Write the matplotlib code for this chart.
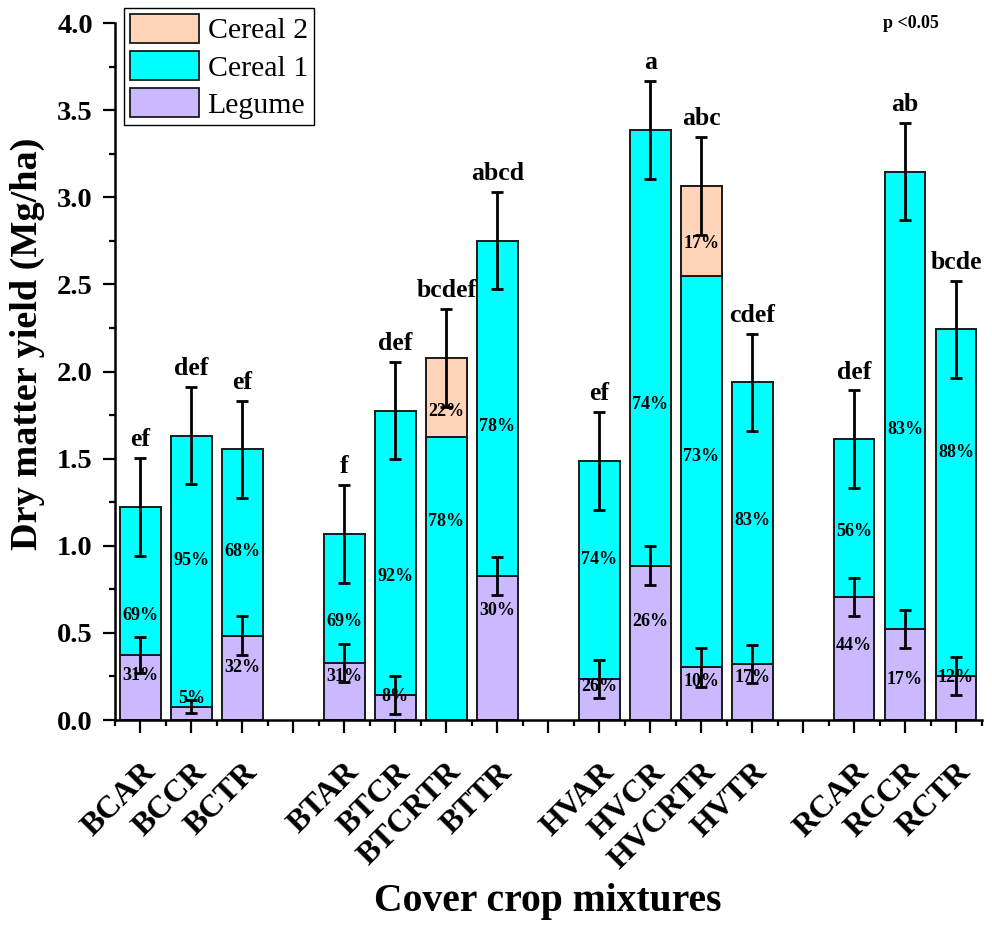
import numpy as np
import matplotlib
matplotlib.use("Agg")
import matplotlib.pyplot as plt
import matplotlib.transforms as mtransforms
from matplotlib.patches import Patch

# groups of cover crop mixtures (a blank slot between groups)
groups = [["BCAR", "BCCR", "BCTR"],
          ["BTAR", "BTCR", "BTCRTR", "BTTR"],
          ["HVAR", "HVCR", "HVCRTR", "HVTR"],
          ["RCAR", "RCCR", "RCTR"]]

# dry matter yield components (Mg/ha), same order as the flattened groups
legume = [0.373, 0.075, 0.484, 0.329, 0.142, 0.0, 0.826,
          0.237, 0.886, 0.302, 0.320, 0.706, 0.524, 0.254]
cereal1 = [0.851, 1.557, 1.069, 0.738, 1.633, 1.626, 1.925,
           1.249, 2.500, 2.246, 1.618, 0.905, 2.623, 1.988]
cereal2 = [0, 0, 0, 0, 0, 0.453, 0,
           0, 0, 0.518, 0, 0, 0, 0]
total_err = [0.28] * 14
legume_err = [0.105, 0.037, 0.11, 0.11, 0.11, 0.0, 0.108,
              0.11, 0.11, 0.11, 0.11, 0.11, 0.11, 0.11]
letters = ["ef", "def", "ef", "f", "def", "bcdef", "abcd",
           "ef", "a", "abc", "cdef", "def", "ab", "bcde"]

# percent shares and the height where each label sits
legume_pct = ["31%", "5%", "32%", "31%", "8%", "", "30%",
              "26%", "26%", "10%", "17%", "44%", "17%", "12%"]
legume_pct_y = [0.258, 0.126, 0.30, 0.249, 0.134, 0, 0.631,
                0.191, 0.564, 0.22, 0.245, 0.425, 0.23, 0.245]
cereal1_pct = ["69%", "95%", "68%", "69%", "92%", "78%", "78%",
               "74%", "74%", "73%", "83%", "56%", "83%", "88%"]
cereal1_pct_y = [0.597, 0.918, 0.966, 0.564, 0.823, 1.14, 1.687,
                 0.922, 1.808, 1.515, 1.144, 1.081, 1.67, 1.534]
cereal2_pct = ["", "", "", "", "", "22%", "", "", "", "17%", "", "", "", ""]
cereal2_pct_y = [0, 0, 0, 0, 0, 1.77, 0, 0, 0, 2.732, 0, 0, 0, 0]

c_leg = "#CBB9FF"
c_cer1 = "#00FFFF"
c_cer2 = "#FFD4B8"

plt.rcParams["font.family"] = ["Liberation Serif", "DejaVu Serif"]
plt.rcParams["font.weight"] = "bold"

# slot positions: one empty slot between groups
names, pos, tick_pos, tick_lab = [], [], [], []
slot = 1
for gi, g in enumerate(groups):
    for n in g:
        names.append(n)
        pos.append(slot)
        tick_pos.append(slot)
        tick_lab.append(n)
        slot += 1
    if gi < len(groups) - 1:
        tick_pos.append(slot)
        tick_lab.append("")
        slot += 1
pos = np.array(pos, dtype=float)
legume = np.array(legume)
cereal1 = np.array(cereal1)
cereal2 = np.array(cereal2)
total = legume + cereal1 + cereal2

fig = plt.figure(figsize=(9.92, 9.25), dpi=100)
ax = fig.add_axes([115 / 992, 1 - 720 / 925, (981.5 - 115) / 992, (720 - 23) / 925])

w = 0.8
ec = "#1a1a1a"
ax.bar(pos, legume, w, color=c_leg, edgecolor=ec, linewidth=1.4, zorder=2)
ax.bar(pos, cereal1, w, bottom=legume, color=c_cer1, edgecolor=ec, linewidth=1.4, zorder=2)
m2 = cereal2 > 0
ax.bar(pos[m2], cereal2[m2], w, bottom=(legume + cereal1)[m2], color=c_cer2,
       edgecolor=ec, linewidth=1.4, zorder=2)

ax.errorbar(pos, total, yerr=total_err, fmt="none", ecolor="black",
            elinewidth=2, capsize=4.5, capthick=2, zorder=4)
lm = np.array(legume_err) > 0
ax.errorbar(pos[lm], legume[lm], yerr=np.array(legume_err)[lm], fmt="none",
            ecolor="black", elinewidth=2, capsize=4.5, capthick=2, zorder=4)

for i in range(len(pos)):
    ax.annotate(letters[i], (pos[i], total[i] + total_err[i]), xytext=(0, 5),
                textcoords="offset points", ha="center", va="bottom",
                fontsize=18.5, fontweight="bold")
    for lab, yy in ((legume_pct[i], legume_pct_y[i]),
                    (cereal1_pct[i], cereal1_pct_y[i]),
                    (cereal2_pct[i], cereal2_pct_y[i])):
        if lab:
            ax.text(pos[i], yy, lab, ha="center", va="center",
                    fontsize=13, fontweight="bold", zorder=3)

ax.set_xlim(0.5, 17.5)
ax.set_ylim(0, 4.0)
ax.set_yticks(np.arange(0, 4.01, 0.5))
ax.set_yticks(np.arange(0.25, 4.0, 0.5), minor=True)
ax.set_yticklabels([f"{v:.1f}" for v in np.arange(0, 4.01, 0.5)], fontsize=20.5)
ax.set_xticks(tick_pos)
ax.set_xticks(np.arange(0.5, 17.6, 1.0), minor=True)
ax.set_xticklabels(tick_lab, fontsize=23, rotation=45, ha="right", va="top",
                   rotation_mode="anchor")
offset = mtransforms.ScaledTranslation(12 / 100, 0, fig.dpi_scale_trans)
for lab in ax.get_xticklabels():
    lab.set_transform(lab.get_transform() + offset)

for s in ("top", "right"):
    ax.spines[s].set_visible(False)
for s in ("left", "bottom"):
    ax.spines[s].set_linewidth(1.8)
ax.tick_params(axis="both", which="major", direction="out", length=9, width=1.6)
ax.tick_params(axis="both", which="minor", direction="out", length=4.5, width=1.6)
ax.tick_params(axis="y", which="major", pad=7)
ax.tick_params(axis="x", which="major", pad=18)

fig.text(27 / 992, 1 - 344 / 925, "Dry matter yield (Mg/ha)", rotation=90,
         ha="center", va="center", fontsize=27.5, fontweight="bold")
fig.text(548 / 992, 1 - 902 / 925, "Cover crop mixtures",
         ha="center", va="center", fontsize=28.5, fontweight="bold")
fig.text(911 / 992, 1 - 23 / 925, "p <0.05", ha="center", va="center",
         fontsize=13, fontweight="bold")

handles = [Patch(facecolor=c_cer2, edgecolor=ec, linewidth=1.3, label="Cereal 2"),
           Patch(facecolor=c_cer1, edgecolor=ec, linewidth=1.3, label="Cereal 1"),
           Patch(facecolor=c_leg, edgecolor=ec, linewidth=1.3, label="Legume")]
leg = fig.legend(handles=handles, loc="upper left",
                 bbox_to_anchor=(124 / 992, 1 - 8 / 925), borderaxespad=0,
                 prop={"family": "Liberation Serif", "weight": "normal", "size": 21.5},
                 handlelength=2.3, handleheight=1.1, labelspacing=0.22,
                 borderpad=0.2, handletextpad=0.3, fancybox=False,
                 framealpha=1, edgecolor="black")
leg.get_frame().set_linewidth(1.0)

fig.savefig("out.png", dpi=100)
